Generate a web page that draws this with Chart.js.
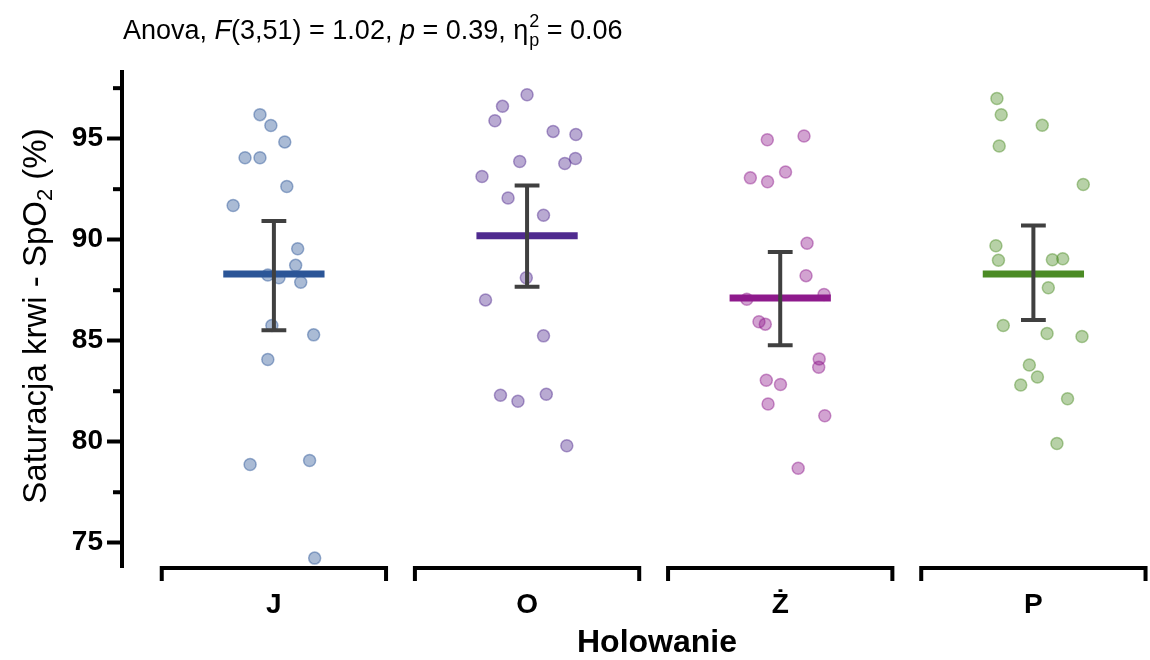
<!DOCTYPE html>
<html>
<head>
<meta charset="utf-8">
<script src="https://cdn.jsdelivr.net/npm/chart.js@4.4.1/dist/chart.umd.min.js"></script>
<style>
  html, body { margin: 0; padding: 0; background: #fff; }
  #wrap { width: 1150px; height: 660px; }
</style>
</head>
<body>
<div id="wrap"><canvas id="wykres" width="1150" height="660"></canvas></div>
<script>
// dane
const kategorie = ['J', 'O', 'Ż', 'P'];
const yTicks = [75, 80, 85, 90, 95];
const yMinor = [77.5, 82.5, 87.5, 92.5, 97.5];

const wartJ = [96.19, 95.65, 94.84, 94.06, 94.06, 92.63, 91.69, 89.55, 88.73, 88.25, 88.12, 87.89, 85.75, 85.29, 84.07, 78.87, 79.07, 74.24];
const jitJ  = [-0.055, -0.012, 0.043, -0.114, -0.055, 0.051, -0.161, 0.094, 0.086, -0.024, 0.020, 0.106, -0.008, 0.157, -0.024, -0.094, 0.141, 0.161];

const wartO = [97.17, 96.60, 95.89, 95.36, 95.21, 93.87, 93.77, 94.02, 93.13, 92.06, 91.21, 88.12, 87.02, 85.24, 82.30, 82.00, 82.35, 79.80];
const jitO  = [0.000, -0.097, -0.127, 0.103, 0.193, -0.029, 0.149, 0.191, -0.178, -0.075, 0.065, -0.003, -0.164, 0.065, -0.105, -0.036, 0.076, 0.157];

const wartZ = [94.95, 95.13, 93.06, 92.87, 93.35, 89.82, 88.22, 87.29, 87.05, 85.94, 85.82, 84.10, 83.69, 83.04, 82.83, 81.87, 81.29, 78.69];
const jitZ  = [-0.051, 0.094, -0.118, -0.050, 0.021, 0.106, 0.102, 0.173, -0.132, -0.084, -0.059, 0.154, 0.152, -0.055, 0.001, -0.048, 0.176, 0.071];

const wartP = [96.99, 96.18, 95.66, 94.64, 92.73, 89.70, 88.98, 89.01, 89.06, 87.62, 85.75, 85.36, 85.21, 83.80, 83.20, 82.81, 82.13, 79.91];
const jitP  = [-0.144, -0.127, 0.035, -0.135, 0.197, -0.148, -0.138, 0.075, 0.116, 0.059, -0.119, 0.054, 0.192, -0.016, 0.016, -0.050, 0.135, 0.093];

const srednie = [88.30, 90.19, 87.12, 88.30];
const ciDol   = [85.52, 87.67, 84.78, 86.02];
const ciGora  = [90.92, 92.68, 89.39, 90.70];

const kolory = [[43, 85, 151], [79, 42, 143], [142, 26, 140], [75, 139, 36]];
const FONT = '"Liberation Sans", Arial, sans-serif';

const wszystkie = [wartJ, wartO, wartZ, wartP];
const jittery = [jitJ, jitO, jitZ, jitP];

const datasets = [];
kategorie.forEach((k, i) => {
  const c = i + 1;
  const [r, g, b] = kolory[i];
  // przedzial ufnosci
  datasets.push({
    data: [
      { x: c - 0.049, y: ciGora[i] }, { x: c + 0.049, y: ciGora[i] }, { x: c, y: null },
      { x: c, y: ciGora[i] }, { x: c, y: ciDol[i] }, { x: c, y: null },
      { x: c - 0.049, y: ciDol[i] }, { x: c + 0.049, y: ciDol[i] }
    ],
    showLine: true, spanGaps: false, borderColor: '#404040', borderWidth: 4,
    borderCapStyle: 'butt', pointRadius: 0, order: 0
  });
  // srednia
  datasets.push({
    data: [{ x: c - 0.2, y: srednie[i] }, { x: c + 0.2, y: srednie[i] }],
    showLine: true, borderColor: `rgb(${r},${g},${b})`, borderWidth: 7,
    borderCapStyle: 'butt', pointRadius: 0, order: 1
  });
  // punkty
  datasets.push({
    data: wszystkie[i].map((v, n) => ({ x: c + jittery[i][n], y: v })),
    backgroundColor: `rgba(${r},${g},${b},0.4)`,
    borderColor: `rgba(${r},${g},${b},0.45)`,
    borderWidth: 1.5, pointRadius: 6, order: 2
  });
});

const dodatki = {
  id: 'dodatki',
  afterDraw(chart) {
    const ctx = chart.ctx, xs = chart.scales.x, ys = chart.scales.y, ca = chart.chartArea;
    ctx.save();
    ctx.strokeStyle = '#000';
    ctx.lineWidth = 4;
    // male kreski osi Y
    yMinor.forEach(v => {
      const py = ys.getPixelForValue(v);
      ctx.beginPath(); ctx.moveTo(ca.left - 9, py); ctx.lineTo(ca.left, py); ctx.stroke();
    });
    // klamry pod kategoriami
    ctx.lineJoin = 'miter';
    kategorie.forEach((k, i) => {
      const l = xs.getPixelForValue(i + 1 - 0.443), r = xs.getPixelForValue(i + 1 + 0.443);
      const yb = ca.bottom + 1;
      ctx.beginPath();
      ctx.moveTo(l, yb + 13); ctx.lineTo(l, yb); ctx.lineTo(r, yb); ctx.lineTo(r, yb + 13);
      ctx.stroke();
    });

    // tytul osi X (panel siega za prawa krawedz)
    ctx.fillStyle = '#000';
    ctx.font = `bold 32px ${FONT}`;
    ctx.textAlign = 'center';
    ctx.textBaseline = 'middle';
    ctx.fillText('Holowanie', 657, 643);

    // tytul osi Y z indeksem dolnym
    ctx.translate(37, 316);
    ctx.rotate(-Math.PI / 2);
    const cz = [['Saturacja krwi - SpO', 33, 0], ['2', 22, 9], [' (%)', 33, 0]];
    let szer = 0;
    cz.forEach(([t, s]) => { ctx.font = `${s}px ${FONT}`; szer += ctx.measureText(t).width; });
    let px = -szer / 2;
    ctx.textAlign = 'left';
    cz.forEach(([t, s, dy]) => {
      ctx.font = `${s}px ${FONT}`;
      ctx.fillText(t, px, dy);
      px += ctx.measureText(t).width;
    });
    ctx.restore();

    // tytul ANOVA
    ctx.save();
    ctx.fillStyle = '#000';
    ctx.textBaseline = 'alphabetic';
    ctx.textAlign = 'left';
    let tx = 123;
    const ty = 39;
    const seg = [['Anova, ', ''], ['F', 'italic '], ['(3,51) = 1.02, ', ''], ['p', 'italic '], [' = 0.39, η', '']];
    seg.forEach(([t, st]) => {
      ctx.font = `${st}27px ${FONT}`;
      ctx.fillText(t, tx, ty);
      tx += ctx.measureText(t).width;
    });
    ctx.font = `18px ${FONT}`;
    ctx.fillText('2', tx + 1, ty - 12);
    ctx.fillText('p', tx + 1, ty + 7);
    tx += Math.max(ctx.measureText('2').width, ctx.measureText('p').width) + 1;
    ctx.font = `27px ${FONT}`;
    ctx.fillText(' = 0.06', tx, ty);
    ctx.restore();
  }
};

new Chart(document.getElementById('wykres'), {
  type: 'scatter',
  data: { datasets },
  options: {
    responsive: false,
    animation: false,
    layout: { padding: { top: 72, left: 0, right: 0, bottom: 0 } },
    plugins: { legend: { display: false }, tooltip: { enabled: false } },
    scales: {
      x: {
        type: 'linear',
        min: 0.4,
        max: 4.431,
        afterFit: s => { s.height = 93; },
        afterBuildTicks: s => { s.ticks = kategorie.map((k, i) => ({ value: i + 1 })); },
        grid: { display: false, drawTicks: false },
        border: { display: false },
        ticks: {
          callback: (v, i) => kategorie[i],
          font: { family: FONT, size: 28, weight: 'bold' },
          color: '#000',
          padding: 21,
          maxRotation: 0,
          autoSkip: false
        }
      },
      y: {
        min: 73.8,
        max: 98.3,
        afterFit: s => { s.width = 122; },
        afterBuildTicks: s => { s.ticks = yTicks.map(v => ({ value: v })); },
        grid: { drawOnChartArea: false, tickLength: 15, tickWidth: 4, tickColor: '#000' },
        border: { display: true, color: '#000', width: 4 },
        ticks: {
          font: { family: FONT, size: 28, weight: 'bold' },
          color: '#000',
          padding: 4
        }
      }
    }
  },
  plugins: [dodatki]
});
</script>
</body>
</html>
